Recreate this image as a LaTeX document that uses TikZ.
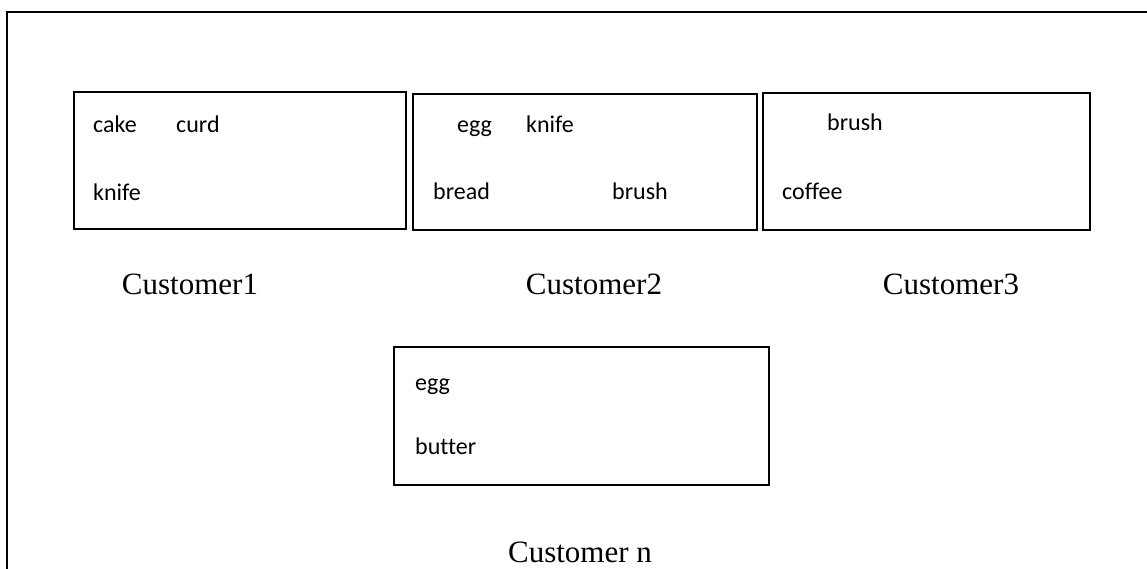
\documentclass[tikz,border=0pt]{standalone}
\usepackage{fontspec}
\setmainfont{Liberation Serif}
\newfontfamily\itemfont[Ligatures=NoCommon]{Carlito}
\begin{document}
\begin{tikzpicture}[x=1pt,y=-1pt,
  box/.style={draw=black,line width=1.6pt},
  item/.style={anchor=base west,inner sep=0pt,font=\itemfont\fontsize{24}{24}\selectfont},
  cust/.style={anchor=base,inner sep=0pt,font=\fontsize{31}{31}\selectfont}]
\useasboundingbox (0,0) rectangle (1147,568);
\draw[line width=1.6pt] (7,570) -- (7,12) -- (1150,12);
\draw[box] (74,92) rectangle (406,229);
\draw[box] (413,94) rectangle (757,230);
\draw[box] (763,93) rectangle (1090,230);
\draw[box] (394,347) rectangle (769,485);
\node[item] (c1a) at (93,132) {cake};
\node[item] (c1b) at (176,132) {curd};
\node[item] (c1c) at (93,200) {knife};
\node[item] (c2a) at (457,132) {egg};
\node[item] (c2b) at (526,132) {knife};
\node[item] (c2c) at (433,199) {bread};
\node[item] (c2d) at (612,199) {brush};
\node[item] (c3a) at (827,130) {brush};
\node[item] (c3b) at (782,199) {coffee};
\node[item] (c4a) at (415,390) {egg};
\node[item] (c4b) at (415,454) {butter};
\node[cust] (l1) at (190,294) {Customer1};
\node[cust] (l2) at (594,294) {Customer2};
\node[cust] (l3) at (951,294) {Customer3};
\node[cust] (l4) at (580,562) {Customer n};
\end{tikzpicture}
\end{document}
